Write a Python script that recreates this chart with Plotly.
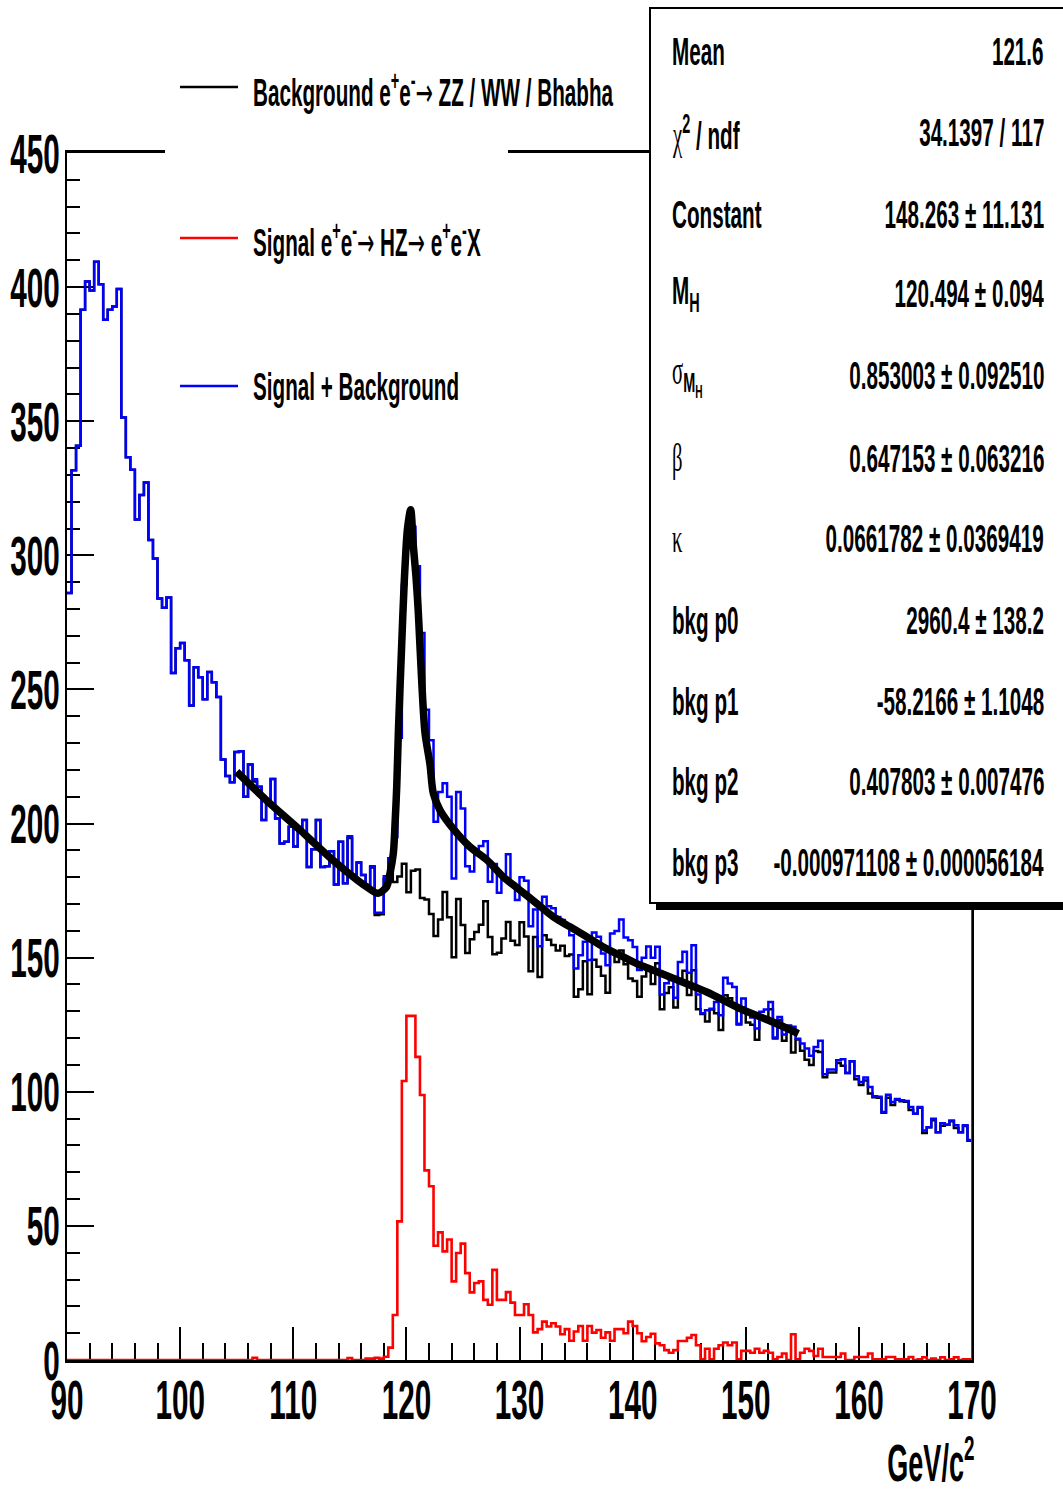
import numpy as np
import plotly.graph_objects as go

# ---------------- data ----------------
X_MIN, X_MAX, BIN_W = 90.0, 170.0, 0.4

# Signal + Background (blue), 200 bins of 0.4 GeV from 90 to 170
TOTAL = [
    286.0, 331.7, 340.9, 391.6, 402.1, 398.7, 409.5, 401.1, 387.8, 391.6,
    392.8, 399.3, 351.4, 336.6, 331.9, 313.4, 322.5, 327.2, 305.7, 298.8,
    283.9, 280.5, 284.3, 256.1, 265.4, 267.3, 260.9, 244.0, 258.3, 254.5,
    246.3, 256.5, 252.7, 247.2, 223.9, 217.7, 215.4, 226.7, 227.0, 210.0,
    222.0, 216.5, 213.7, 201.3, 208.8, 216.6, 201.9, 192.6, 193.2, 198.8,
    191.4, 198.0, 201.3, 183.8, 190.4, 201.3, 183.8, 184.1, 189.7, 177.3,
    193.2, 177.7, 195.3, 180.8, 185.5, 180.8, 177.1, 184.1, 166.7, 166.7,
    180.4, 187.1, 195.0, 232.0, 289.0, 302.7, 310.7, 295.9, 271.0, 242.4,
    231.1, 200.7, 211.8, 215.0, 210.0, 179.5, 211.8, 205.6, 184.1, 182.1,
    188.3, 191.6, 193.4, 178.3, 184.9, 174.2, 179.5, 188.6, 177.7, 171.5,
    180.0, 178.7, 161.7, 168.0, 154.3, 172.7, 169.2, 168.4, 165.2, 164.0,
    162.1, 158.4, 146.0, 150.9, 155.9, 149.1, 159.4, 157.8, 151.6, 147.2,
    159.0, 159.9, 164.2, 157.5, 156.5, 154.0, 145.4, 150.0, 154.2, 150.0,
    154.1, 136.3, 140.5, 141.7, 135.1, 148.4, 152.2, 144.4, 154.6, 136.3,
    129.3, 130.4, 131.0, 133.5, 128.5, 142.5, 140.4, 139.1, 125.4, 134.8,
    129.2, 127.7, 123.6, 129.8, 130.7, 133.5, 120.2, 127.9, 121.4, 124.6,
    124.2, 119.8, 118.0, 116.1, 113.4, 116.7, 119.0, 106.5, 108.3, 108.3,
    111.8, 112.1, 107.0, 111.4, 105.8, 103.6, 105.3, 101.8, 98.3, 98.1,
    92.5, 98.9, 96.2, 97.3, 96.8, 96.6, 94.3, 91.8, 94.3, 85.6,
    86.8, 89.9, 84.9, 88.3, 87.7, 89.3, 87.5, 84.9, 87.5, 82.0,
]

# Signal e+e- -> HZ -> e+e-X (red)
SIGNAL = [
    0, 0, 0, 0, 0, 0, 0, 0, 0, 0,
    0, 0, 0, 0, 0, 0, 0, 0, 0, 0,
    0, 0, 0, 0, 0, 0, 0, 0, 0, 0,
    0, 0, 0, 0, 0, 0, 0, 0, 0, 0,
    0, 0.8, 0, 0, 0, 0, 0, 0, 0, 0,
    0, 0, 0, 0, 0, 0, 0, 0, 0, 0,
    0, 0, 0.7, 0, 0, 0, 0.5, 0.5, 0.8, 0.5,
    1.2, 4.6, 16.8, 51.7, 104.0, 128.3, 128.3, 113.0, 98.8, 70.7,
    64.8, 42.6, 47.6, 40.5, 44.9, 29.3, 39.9, 43.4, 32.4, 25.2,
    28.7, 29.3, 22.4, 20.6, 33.6, 22.4, 22.4, 25.3, 21.4, 16.8,
    16.8, 20.8, 16.8, 10.3, 11.5, 14.3, 12.5, 13.7, 12.5, 9.6,
    11.5, 7.2, 10.6, 12.7, 7.2, 12.7, 10.2, 11.2, 8.3, 10.3,
    7.2, 11.5, 11.5, 10.0, 14.3, 12.7, 10.0, 7.0, 8.6, 9.8,
    6.2, 5.5, 3.7, 2.7, 3.7, 7.1, 7.1, 8.3, 9.3, 5.5,
    0.3, 4.2, 0.3, 4.2, 5.5, 6.5, 5.5, 6.5, 0.3, 3.4,
    3.4, 2.7, 4.2, 2.7, 3.4, 2.7, 0.3, 1.1, 2.4, 0.0,
    9.6, 0.3, 2.7, 4.2, 3.4, 1.5, 4.2, 1.1, 1.1, 1.1,
    1.1, 2.4, 0.0, 0.0, 1.1, 1.1, 1.1, 2.4, 0.3, 0.3,
    0.3, 1.1, 1.1, 0.3, 0.3, 0.3, 1.1, 0.0, 0.3, 1.0,
    0.0, 0.5, 0.0, 1.0, 0.0, 0.3, 1.0, 0.0, 0.3, 0.3,
]

# fitted function (thick black curve)
FIT_X = [105.0, 107.6, 110.6, 113.5, 116.5, 117.5, 118.25, 118.55, 118.85, 119.0,
         119.15, 119.3, 119.58, 119.82, 120.1, 120.38, 120.62, 120.85, 121.06, 121.35,
         121.65, 122.09, 122.38, 122.97, 124.15, 125.62, 127.1, 128.57, 130.04, 131.52,
         133.0, 134.46, 135.94, 137.41, 138.88, 140.36, 141.83, 143.3, 146.55, 149.5,
         152.4, 154.65]
FIT_Y = [219.3, 208.8, 197.6, 186.4, 176.4, 174.0, 176.4, 181.4, 189.0, 200.0,
         214.0, 235.0, 266.0, 290.9, 310.0, 317.0, 303.3, 292.0, 278.4, 253.5,
         233.7, 222.0, 211.3, 205.0, 198.0, 191.3, 186.5, 180.1, 175.2, 170.2,
         165.2, 161.5, 157.8, 154.0, 150.9, 147.8, 145.3, 142.8, 137.2, 131.0,
         126.0, 121.7]

X_TICKS = [90, 100, 110, 120, 130, 140, 150, 160, 170]
Y_TICKS = [0, 50, 100, 150, 200, 250, 300, 350, 400, 450]

ARROW = '<span style="font-family:DejaVu Sans;font-weight:normal">\u2192</span>'
LEGEND_LABELS = [
    "Background e<sup>+</sup>e<sup>-</sup>" + ARROW + " ZZ / WW / Bhabha",
    "Signal e<sup>+</sup>e<sup>-</sup>" + ARROW + " HZ" + ARROW + " e<sup>+</sup>e<sup>-</sup>X",
    "Signal + Background",
]
GREEK = '<span style="font-family:Liberation Serif;font-weight:normal">{}</span>'
STAT_NAMES = [
    "Mean",
    GREEK.format("\u03c7") + "<sup>2</sup> / ndf",
    "Constant",
    "M<sub>H</sub>",
    GREEK.format("\u03c3") + "<sub>M<sub>H</sub></sub>",
    GREEK.format("\u03b2"),
    GREEK.format("\u03ba"),
    "bkg p0",
    "bkg p1",
    "bkg p2",
    "bkg p3",
]
STAT_VALUES = [
    "121.6",
    "34.1397 / 117",
    "148.263 \u00b1 11.131",
    "120.494 \u00b1 0.094",
    "0.853003 \u00b1 0.092510",
    "0.647153 \u00b1 0.063216",
    "0.0661782 \u00b1 0.0369419",
    "2960.4 \u00b1 138.2",
    "-58.2166 \u00b1 1.1048",
    "0.407803 \u00b1 0.007476",
    "-0.000971108 \u00b1 0.000056184",
]

# ---------------- derived ----------------
total = np.array(TOTAL, dtype=float)
signal = np.array(SIGNAL, dtype=float)
background = total - signal
edges = X_MIN + BIN_W * np.arange(len(total) + 1)


def step_y(vals):
    return np.append(vals, vals[-1])


# ---------------- geometry helpers ----------------
W, H = 1063, 1494
L, R, T, B = 67, 91, 153, 134
PW, PH = W - L - R, H - T - B


def px(x):
    return (x - L) / PW


def py(y):
    return (H - B - y) / PH


FONT = "Liberation Sans, Arial, Helvetica, sans-serif"
BLUE, RED, BLACK = "#0000ff", "#ff0000", "#000000"
TXT = 39      # stats / legend font size (before horizontal squeeze)
TICK = 56     # tick label size

fig = go.Figure()
fig.add_trace(go.Scatter(x=edges, y=step_y(background), mode="lines", line_shape="hv",
                         line=dict(color=BLACK, width=2.5), showlegend=False, hoverinfo="skip"))
fig.add_trace(go.Scatter(x=edges, y=step_y(total), mode="lines", line_shape="hv",
                         line=dict(color=BLUE, width=2.5), showlegend=False, hoverinfo="skip"))
fig.add_trace(go.Scatter(x=edges, y=step_y(signal), mode="lines", line_shape="hv",
                         line=dict(color=RED, width=2.6), showlegend=False, hoverinfo="skip"))
fig.add_trace(go.Scatter(x=FIT_X, y=FIT_Y, mode="lines", line_shape="spline",
                         line=dict(color=BLACK, width=7.5, smoothing=0.8),
                         showlegend=False, hoverinfo="skip"))

shapes = []
shapes.append(dict(type="line", xref="x", yref="y", x0=X_MAX, x1=X_MAX, y0=0, y1=450,
                   line=dict(color=RED, width=2), layer="above"))
shapes.append(dict(type="rect", xref="paper", yref="paper", x0=px(165), x1=px(508),
                   y0=py(445), y1=py(14), fillcolor="white", line=dict(width=0), layer="above"))
legend_cols = [BLACK, RED, BLUE]
legend_y = [87, 238, 386]
for c, yy in zip(legend_cols, legend_y):
    shapes.append(dict(type="line", xref="paper", yref="paper", x0=px(180), x1=px(238),
                       y0=py(yy), y1=py(yy), line=dict(color=c, width=2.5), layer="above"))
shapes.append(dict(type="rect", xref="paper", yref="paper", x0=px(656), x1=px(1080),
                   y0=py(910), y1=py(895), fillcolor=BLACK, line=dict(width=0), layer="above"))
shapes.append(dict(type="rect", xref="paper", yref="paper", x0=px(650), x1=px(1080),
                   y0=py(903), y1=py(8), fillcolor="white", line=dict(color=BLACK, width=2),
                   layer="above"))

annotations = []
for lab, yy in zip(LEGEND_LABELS, [90, 240, 386]):
    annotations.append(dict(text=lab, xref="paper", yref="paper", x=px(251), y=py(yy),
                            xanchor="left", align="left", yanchor="middle", showarrow=False,
                            font=dict(family=FONT, size=TXT, color=BLACK, weight="bold")))
stat_y = [52, 133, 215, 293, 375, 458, 538, 620, 701, 781, 862]
for name, val, yy in zip(STAT_NAMES, STAT_VALUES, stat_y):
    annotations.append(dict(text=name, xref="paper", yref="paper", x=px(670), y=py(yy),
                            xanchor="left", align="left", yanchor="middle", showarrow=False,
                            font=dict(family=FONT, size=TXT, color=BLACK, weight="bold")))
    annotations.append(dict(text=val, xref="paper", yref="paper", x=px(1046), y=py(yy),
                            xanchor="right", align="right", yanchor="middle", showarrow=False,
                            font=dict(family=FONT, size=TXT, color=BLACK, weight="bold")))
annotations.append(dict(text="GeV/c<sup>2</sup>", xref="paper", yref="paper", x=px(976), y=py(1494),
                        xanchor="right", align="right", yanchor="bottom", showarrow=False,
                        font=dict(family=FONT, size=51, color=BLACK, weight="bold")))

fig.update_layout(
    width=W, height=H,
    margin=dict(l=L, r=R, t=T, b=B, pad=0, autoexpand=False),
    paper_bgcolor="white", plot_bgcolor="white",
    shapes=shapes, annotations=annotations,
    showlegend=False,
    xaxis=dict(range=[X_MIN, X_MAX], showgrid=False, zeroline=False, automargin=False,
               showline=True, linecolor=BLACK, linewidth=3, mirror=True,
               ticks="inside", ticklen=33, tickwidth=1.5, tickcolor=BLACK,
               tickvals=X_TICKS, ticktext=[str(v) for v in X_TICKS],
               ticklabelstandoff=-11,
               minor=dict(ticks="inside", ticklen=17, tickwidth=1.5, tickcolor=BLACK, dtick=2,
                          showgrid=False),
               tickfont=dict(family=FONT, size=TICK, color=BLACK, weight="bold"),
               layer="below traces"),
    yaxis=dict(range=[0, 450], showgrid=False, zeroline=False, automargin=False,
               showline=True, linecolor=BLACK, linewidth=2, mirror=True,
               ticks="inside", ticklen=27, tickwidth=2, tickcolor=BLACK,
               tickvals=Y_TICKS, ticktext=[str(v) for v in Y_TICKS],
               ticklabelstandoff=-6,
               minor=dict(ticks="inside", ticklen=13, tickwidth=2, tickcolor=BLACK, dtick=10,
                          showgrid=False),
               tickfont=dict(family=FONT, size=TICK, color=BLACK, weight="bold"),
               layer="below traces"),
)

# The reference uses a very condensed bold sans face; squeeze every text horizontally
# around its own anchor point so it keeps its position but gets the narrow look.
SQUEEZE_JS = """
var gd = document.getElementById('{plot_id}');
var S = 0.53;
function squeeze() {
  var texts = gd.querySelectorAll('svg text');
  texts.forEach(function (t) {
    if (t.getAttribute('data-sq') === '1') return;
    var ax = parseFloat(t.getAttribute('x'));
    if (isNaN(ax)) ax = 0;
    var tr = t.getAttribute('transform') || '';
    t.setAttribute('transform', tr + ' translate(' + ax + ',0) scale(' + S + ',1) translate(' + (-ax) + ',0)');
    t.setAttribute('data-sq', '1');
  });
}
squeeze();
"""

fig.write_html("out.html", post_script=SQUEEZE_JS)
